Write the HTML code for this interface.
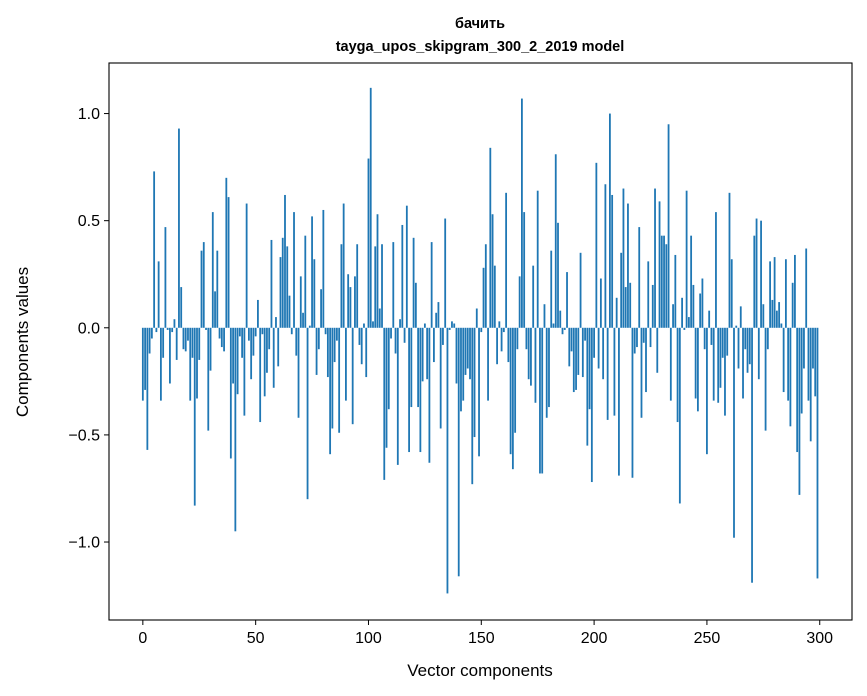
<!DOCTYPE html>
<html><head><meta charset="utf-8"><style>
html,body{margin:0;padding:0;background:#fff;}
svg{display:block;font-family:"Liberation Sans","DejaVu Sans",sans-serif;}
</style></head><body>
<svg id="chart" width="867" height="696" viewBox="0 0 867 696">
<rect width="867" height="696" fill="#fff"/>
<text x="480" y="28" text-anchor="middle" font-size="14.5" font-weight="bold">бачить</text>
<text x="480" y="51" text-anchor="middle" font-size="14.5" font-weight="bold">tayga_upos_skipgram_300_2_2019 model</text>
<g id="bars"></g>
<g id="axes"></g>
<text x="480" y="676" text-anchor="middle" font-size="17">Vector components</text>
<text transform="translate(28,342) rotate(-90)" text-anchor="middle" font-size="17">Components values</text>
</svg>
<script>
const values = [-0.34,-0.29,-0.57,-0.12,-0.05,0.73,-0.02,0.31,-0.34,-0.14,0.47,-0.01,-0.26,-0.02,0.04,-0.15,0.93,0.19,-0.10,-0.11,
-0.06,-0.34,-0.14,-0.83,-0.33,-0.15,0.36,0.40,-0.01,-0.48,-0.20,0.54,0.17,0.36,-0.05,-0.09,-0.11,0.70,0.61,-0.61,
-0.26,-0.95,-0.31,-0.04,-0.14,-0.41,0.58,-0.06,-0.24,-0.13,-0.04,0.13,-0.44,-0.03,-0.32,-0.21,-0.10,0.41,-0.28,0.05,
-0.18,0.33,0.42,0.62,0.38,0.15,-0.03,0.54,-0.13,-0.42,0.24,0.07,0.43,-0.80,0.01,0.52,0.32,-0.22,-0.10,0.18,
0.55,-0.03,-0.23,-0.59,-0.47,-0.16,-0.06,-0.49,0.39,0.58,-0.34,0.25,0.19,-0.45,0.24,0.39,-0.08,-0.17,0.02,-0.23,
0.79,1.12,0.03,0.38,0.53,0.09,0.39,-0.71,-0.56,-0.38,-0.05,0.40,-0.12,-0.64,0.04,0.48,-0.07,0.57,-0.58,-0.37,
0.42,0.21,-0.37,-0.58,-0.25,0.02,-0.24,-0.63,0.40,-0.16,0.07,0.12,-0.47,-0.08,0.51,-1.24,-0.01,0.03,0.02,-0.26,
-1.16,-0.39,-0.34,-0.22,-0.19,-0.24,-0.73,-0.51,0.09,-0.60,-0.02,0.28,0.39,-0.34,0.84,0.53,0.29,-0.17,0.03,-0.11,
-0.02,0.63,-0.16,-0.59,-0.66,-0.49,-0.10,0.24,1.07,0.54,-0.10,-0.24,-0.27,0.29,-0.35,0.64,-0.68,-0.68,0.11,-0.42,
-0.37,0.36,0.02,0.81,0.49,0.08,-0.03,-0.01,0.26,-0.18,-0.11,-0.30,-0.29,-0.22,0.35,-0.23,-0.06,-0.55,-0.38,-0.72,
-0.14,0.77,-0.19,0.23,-0.24,0.67,-0.43,1.00,0.62,-0.41,0.14,-0.69,0.35,0.65,0.19,0.58,0.21,-0.70,-0.12,-0.09,
0.47,-0.42,-0.07,-0.30,0.31,-0.09,0.20,0.65,-0.21,0.59,0.43,0.43,0.39,0.95,-0.34,0.11,0.34,-0.44,-0.82,0.14,
-0.01,0.64,0.05,0.43,0.20,-0.33,-0.39,0.16,0.23,-0.10,-0.59,0.08,-0.08,-0.34,0.54,-0.35,-0.28,-0.14,-0.41,-0.13,
0.63,0.32,-0.98,0.01,-0.19,0.10,-0.33,-0.10,-0.21,-0.17,-1.19,0.43,0.51,-0.24,0.50,0.11,-0.48,-0.10,0.31,0.13,
0.33,0.08,0.12,0.02,-0.30,0.32,-0.34,-0.46,0.21,0.34,-0.58,-0.78,-0.40,-0.19,0.37,-0.34,-0.53,-0.19,-0.32,-1.17];
const xTicks = [0,50,100,150,200,250,300];
const yTicks = [-1.0,-0.5,0.0,0.5,1.0];
const yTickLabels = ["\u22121.0","\u22120.5","0.0","0.5","1.0"];

const NS = "http://www.w3.org/2000/svg";
const L=109, R=852, T=63, B=620;
const xMin=-15, xMax=314.3, yMin=-1.364, yMax=1.236;
function xs(v){return L+(v-xMin)/(xMax-xMin)*(R-L);}
function ys(v){return T+(yMax-v)/(yMax-yMin)*(B-T);}
function mk(tag,attrs){const e=document.createElementNS(NS,tag);for(const k in attrs)e.setAttribute(k,attrs[k]);return e;}

const bars=document.getElementById('bars');
values.forEach((v,i)=>{
  const x0=xs(i-0.4), x1=xs(i+0.4);
  const y0=ys(Math.max(v,0)), y1=ys(Math.min(v,0));
  const r=mk('rect',{x:x0,y:y0,width:x1-x0,height:Math.max(y1-y0,0.3),fill:'#1f77b4'});
  
  
  bars.appendChild(r);
});

const ax=document.getElementById('axes');
const frame=mk('rect',{x:L,y:T,width:R-L,height:B-T,fill:'none',stroke:'#000','stroke-width':1.1});


ax.appendChild(frame);
xTicks.forEach(t=>{
  const x=xs(t);
  const ln=mk('line',{x1:x,x2:x,y1:B,y2:B+5,stroke:'#000','stroke-width':1});
  
  
  ax.appendChild(ln);
  const tx=mk('text',{x:x,y:B+23,'text-anchor':'middle','font-size':16});
  tx.textContent=t;
  
  
  ax.appendChild(tx);
});
yTicks.forEach((t,i)=>{
  const y=ys(t);
  const ln=mk('line',{x1:L-5,x2:L,y1:y,y2:y,stroke:'#000','stroke-width':1});
  
  
  ax.appendChild(ln);
  const tx=mk('text',{x:L-9,y:y+5.5,'text-anchor':'end','font-size':16});
  tx.textContent=yTickLabels[i];
  
  
  ax.appendChild(tx);
});
</script>
</body></html>
